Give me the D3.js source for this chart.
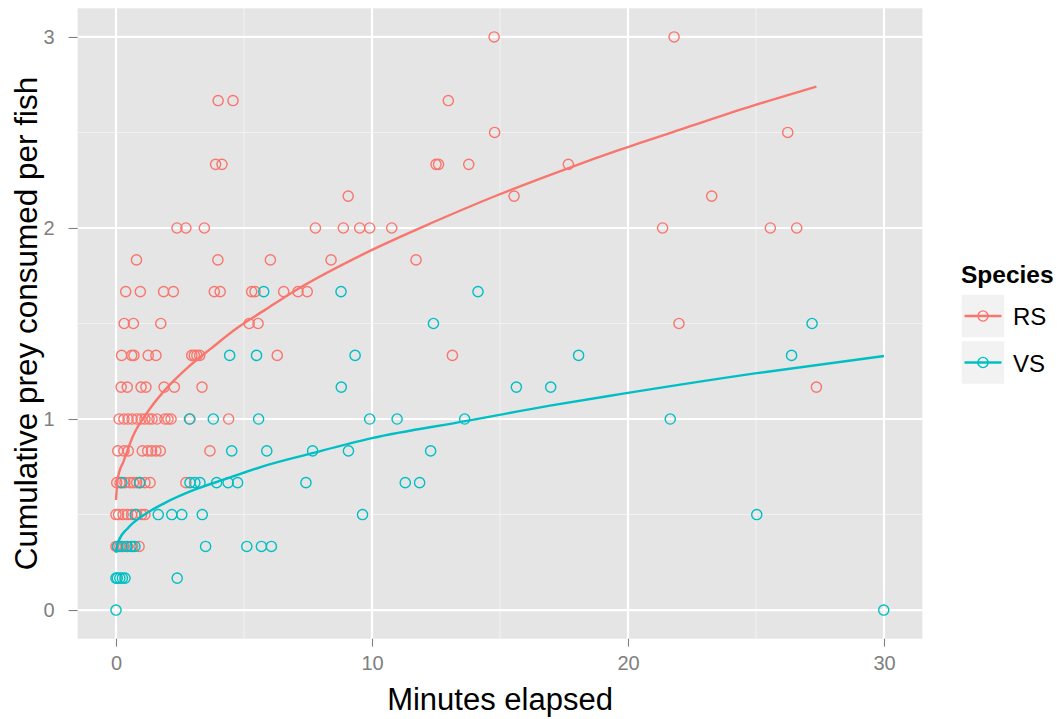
<!DOCTYPE html>
<html>
<head>
<meta charset="utf-8">
<script src="https://cdn.jsdelivr.net/npm/d3@7.9.0/dist/d3.min.js"></script>
<style>
  body { margin: 0; background: #fff; }
  svg text { font-family: "Liberation Sans", Arial, sans-serif; }
</style>
</head>
<body>
<svg id="chart" width="1058" height="719"></svg>
<script>
// points, grouped by prey level (multiples of 1/6)
const rsMinutes = [
  14.77, 21.8,
  3.99, 4.57, 12.98,
  14.79, 26.24,
  3.89, 4.14, 12.5, 12.6, 13.78, 17.67,
  9.07, 15.55, 23.27,
  2.38, 2.73, 3.45, 7.79, 8.88, 9.52, 9.91, 10.77, 21.35, 25.56, 26.59,
  0.8, 3.98, 6.03, 8.4, 11.72,
  0.38, 0.95, 1.86, 2.24, 3.84, 4.07, 5.3, 5.43, 6.55, 7.11, 7.47,
  0.32, 0.68, 1.75, 5.2, 5.55, 21.99,
  0.22, 0.61, 0.7, 1.26, 1.56, 2.96, 3.06, 3.16, 3.27, 6.3, 13.14,
  0.2, 0.44, 0.98, 1.17, 1.88, 2.28, 3.36, 27.36,
  0.12, 0.31, 0.47, 0.63, 0.82, 0.98, 1.13, 1.29, 1.41, 1.6, 1.91, 2.03, 2.15, 2.89, 4.4,
  0.07, 0.31, 0.48, 1.03, 1.24, 1.39, 1.56, 1.73, 3.67,
  0.03, 0.16, 0.35, 0.55, 0.68, 0.81, 0.94, 1.13, 1.33, 2.73,
  0.0, 0.1, 0.28, 0.45, 0.61, 0.81, 1.0, 1.13,
  0.0, 0.05, 0.15, 0.3, 0.45, 0.65, 0.9
];
const rsPrey = [
  3, 3,
  2.667, 2.667, 2.667,
  2.5, 2.5,
  2.333, 2.333, 2.333, 2.333, 2.333, 2.333,
  2.167, 2.167, 2.167,
  2, 2, 2, 2, 2, 2, 2, 2, 2, 2, 2,
  1.833, 1.833, 1.833, 1.833, 1.833,
  1.667, 1.667, 1.667, 1.667, 1.667, 1.667, 1.667, 1.667, 1.667, 1.667, 1.667,
  1.5, 1.5, 1.5, 1.5, 1.5, 1.5,
  1.333, 1.333, 1.333, 1.333, 1.333, 1.333, 1.333, 1.333, 1.333, 1.333, 1.333,
  1.167, 1.167, 1.167, 1.167, 1.167, 1.167, 1.167, 1.167,
  1, 1, 1, 1, 1, 1, 1, 1, 1, 1, 1, 1, 1, 1, 1,
  0.833, 0.833, 0.833, 0.833, 0.833, 0.833, 0.833, 0.833, 0.833,
  0.667, 0.667, 0.667, 0.667, 0.667, 0.667, 0.667, 0.667, 0.667, 0.667,
  0.5, 0.5, 0.5, 0.5, 0.5, 0.5, 0.5, 0.5,
  0.333, 0.333, 0.333, 0.333, 0.333, 0.333, 0.333
];
const vsMinutes = [
  5.77, 8.79, 14.14,
  12.4, 27.19,
  4.44, 5.49, 9.34, 18.07, 26.39,
  8.8, 15.64, 16.98,
  2.87, 3.8, 5.57, 9.91, 10.98, 13.62, 21.65,
  4.52, 5.89, 7.68, 9.08, 12.29,
  0.23, 0.92, 2.89, 3.08, 3.28, 3.93, 4.38, 4.75, 7.42, 11.3, 11.86,
  0.75, 1.65, 2.18, 2.57, 3.37, 9.63, 25.03,
  0.07, 0.22, 0.42, 0.59, 0.74, 3.5, 5.11, 5.68, 6.07,
  0.0, 0.05, 0.15, 0.25, 0.35, 2.39,
  0.0, 29.99
];
const vsPrey = [
  1.667, 1.667, 1.667,
  1.5, 1.5,
  1.333, 1.333, 1.333, 1.333, 1.333,
  1.167, 1.167, 1.167,
  1, 1, 1, 1, 1, 1, 1,
  0.833, 0.833, 0.833, 0.833, 0.833,
  0.667, 0.667, 0.667, 0.667, 0.667, 0.667, 0.667, 0.667, 0.667, 0.667, 0.667,
  0.5, 0.5, 0.5, 0.5, 0.5, 0.5, 0.5,
  0.333, 0.333, 0.333, 0.333, 0.333, 0.333, 0.333, 0.333, 0.333,
  0.167, 0.167, 0.167, 0.167, 0.167, 0.167,
  0, 0
];

// smoothed trend lines
const rsFitX = [0, 0.05, 0.12, 0.27, 0.66, 1.25, 1.9, 2.81, 3.72, 4.77, 5.81, 6.85, 9.92, 12.39, 14.87, 17.6, 19.69, 22.16, 24.89, 27.36];
const rsFitY = [0.576, 0.67, 0.72, 0.77, 0.91, 1.04, 1.15, 1.27, 1.37, 1.48, 1.57, 1.66, 1.88, 2.03, 2.17, 2.31, 2.41, 2.52, 2.64, 2.74];
const vsFitX = [0, 0.08, 0.47, 1.12, 1.9, 3.07, 4.38, 5.68, 7.63, 10, 13.7, 16.95, 19.69, 25.03, 30];
const vsFitY = [0.30, 0.355, 0.43, 0.50, 0.56, 0.63, 0.69, 0.75, 0.82, 0.90, 0.99, 1.07, 1.13, 1.24, 1.33];

const species = ["RS", "VS"];
const xTicks = [0, 10, 20, 30];
const yTicks = [0, 1, 2, 3];
const xMinor = [5, 15, 25];
const yMinor = [0.5, 1.5, 2.5];

const colors = d3.scaleOrdinal().domain(species).range(["#F8766D", "#00BFC4"]);

const svg = d3.select("#chart");
const panel = { left: 77.6, right: 922.4, top: 8.3, bottom: 638.7 };

const x = d3.scaleLinear().domain([-1.5, 31.5]).range([panel.left, panel.right]);
const y = d3.scaleLinear().domain([-0.15, 3.15]).range([panel.bottom, panel.top]);

svg.append("rect")
  .attr("x", panel.left).attr("y", panel.top)
  .attr("width", panel.right - panel.left)
  .attr("height", panel.bottom - panel.top)
  .attr("fill", "#E5E5E5");

// grid
const grid = svg.append("g");
grid.selectAll(".vminor").data(xMinor).join("line")
  .attr("x1", d => x(d)).attr("x2", d => x(d))
  .attr("y1", panel.top).attr("y2", panel.bottom)
  .attr("stroke", "#F2F2F2").attr("stroke-width", 1.1);
grid.selectAll(".hminor").data(yMinor).join("line")
  .attr("y1", d => y(d)).attr("y2", d => y(d))
  .attr("x1", panel.left).attr("x2", panel.right)
  .attr("stroke", "#F2F2F2").attr("stroke-width", 1.1);
grid.selectAll(".vmajor").data(xTicks).join("line")
  .attr("x1", d => x(d)).attr("x2", d => x(d))
  .attr("y1", panel.top).attr("y2", panel.bottom)
  .attr("stroke", "#fff").attr("stroke-width", 2.2);
grid.selectAll(".hmajor").data(yTicks).join("line")
  .attr("y1", d => y(d)).attr("y2", d => y(d))
  .attr("x1", panel.left).attr("x2", panel.right)
  .attr("stroke", "#fff").attr("stroke-width", 2.2);

// axes
const xAxis = svg.append("g")
  .attr("transform", `translate(0,${panel.bottom})`)
  .call(d3.axisBottom(x).tickValues(xTicks).tickFormat(d3.format("d")).tickSize(8).tickPadding(9));
const yAxis = svg.append("g")
  .attr("transform", `translate(${panel.left},0)`)
  .call(d3.axisLeft(y).tickValues(yTicks).tickFormat(d3.format("d")).tickSize(9).tickPadding(14));
[xAxis, yAxis].forEach(a => {
  a.select(".domain").remove();
  a.selectAll(".tick line").attr("stroke", "#7F7F7F").attr("stroke-width", 1.1);
  a.selectAll(".tick text").attr("fill", "#7F7F7F")
    .style("font-family", "'Liberation Sans', Arial, sans-serif")
    .attr("font-size", 20);
});

// points
const series = [
  { name: "RS", xs: rsMinutes, ys: rsPrey, fx: rsFitX, fy: rsFitY },
  { name: "VS", xs: vsMinutes, ys: vsPrey, fx: vsFitX, fy: vsFitY }
];

series.forEach(s => {
  svg.append("g").selectAll("circle")
    .data(s.xs.map((v, i) => [v, s.ys[i]]))
    .join("circle")
    .attr("cx", d => x(d[0]))
    .attr("cy", d => y(d[1]))
    .attr("r", 5.1)
    .attr("fill", "none")
    .attr("stroke", colors(s.name))
    .attr("stroke-width", 1.4);
});

const line = d3.line()
  .x(d => x(d[0])).y(d => y(d[1]))
  .curve(d3.curveMonotoneX);

series.forEach(s => {
  svg.append("path")
    .datum(s.fx.map((v, i) => [v, s.fy[i]]))
    .attr("d", line)
    .attr("fill", "none")
    .attr("stroke", colors(s.name))
    .attr("stroke-width", 2.4);
});

// axis titles
svg.append("text")
  .attr("x", (panel.left + panel.right) / 2)
  .attr("y", 710)
  .attr("text-anchor", "middle")
  .attr("font-size", 31)
  .text("Minutes elapsed");

svg.append("text")
  .attr("transform", `translate(37,${(panel.top + panel.bottom) / 2}) rotate(-90)`)
  .attr("text-anchor", "middle")
  .attr("font-size", 31.5)
  .text("Cumulative prey consumed per fish");

// legend
const legend = svg.append("g");
legend.append("text")
  .attr("x", 961).attr("y", 283)
  .attr("font-size", 24.5)
  .attr("font-weight", "bold")
  .text("Species");

const keys = legend.selectAll(".key").data(species).join("g")
  .attr("transform", (d, i) => `translate(961,${294 + i * 46.5})`);
keys.append("rect")
  .attr("width", 44).attr("height", 44)
  .attr("fill", "#F2F2F2").attr("stroke", "#fff").attr("stroke-width", 1.5);
keys.append("line")
  .attr("x1", 3.5).attr("x2", 40.5).attr("y1", 22).attr("y2", 22)
  .attr("stroke", d => colors(d)).attr("stroke-width", 2.4);
keys.append("circle")
  .attr("cx", 22).attr("cy", 22).attr("r", 5.1)
  .attr("fill", "none").attr("stroke", d => colors(d)).attr("stroke-width", 1.4);
keys.append("text")
  .attr("x", 52).attr("y", 31)
  .attr("font-size", 24)
  .text(d => d);
</script>
</body>
</html>
